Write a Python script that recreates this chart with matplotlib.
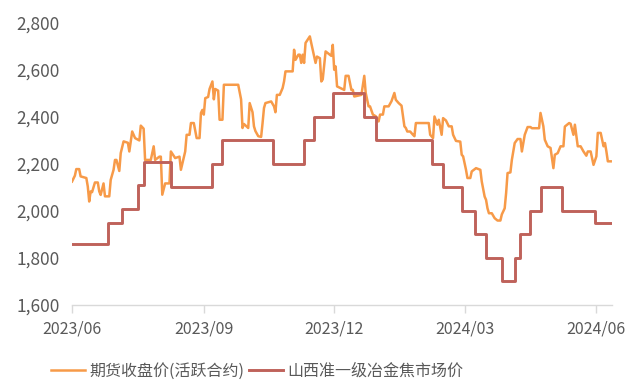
import numpy as np
import pandas as pd
import matplotlib
matplotlib.use('Agg')
import matplotlib.pyplot as plt
import matplotlib.dates as mdates
from matplotlib.ticker import FuncFormatter

# =========================================================
# DATA
# =========================================================

# 焦炭期货收盘价（活跃合约）
fut_dates = [
    '2023-06-01', '2023-06-03', '2023-06-04', '2023-06-06', '2023-06-07',
    '2023-06-11', '2023-06-12', '2023-06-13', '2023-06-14', '2023-06-15',
    '2023-06-17', '2023-06-19', '2023-06-20', '2023-06-21', '2023-06-23',
    '2023-06-24', '2023-06-27', '2023-06-28', '2023-06-30', '2023-07-01',
    '2023-07-02', '2023-07-04', '2023-07-05', '2023-07-07', '2023-07-10',
    '2023-07-11', '2023-07-13', '2023-07-15', '2023-07-18', '2023-07-19',
    '2023-07-21', '2023-07-22', '2023-07-26', '2023-07-28', '2023-07-29',
    '2023-08-01', '2023-08-02', '2023-08-03', '2023-08-05', '2023-08-08',
    '2023-08-09', '2023-08-12', '2023-08-15', '2023-08-16', '2023-08-19',
    '2023-08-20', '2023-08-22', '2023-08-23', '2023-08-25', '2023-08-27',
    '2023-08-29', '2023-08-30', '2023-08-31', '2023-09-01', '2023-09-02',
    '2023-09-04', '2023-09-05', '2023-09-07', '2023-09-08', '2023-09-09',
    '2023-09-11', '2023-09-12', '2023-09-14', '2023-09-15', '2023-09-25',
    '2023-09-27', '2023-09-28', '2023-09-29', '2023-10-02', '2023-10-03',
    '2023-10-05', '2023-10-06', '2023-10-07', '2023-10-09', '2023-10-11',
    '2023-10-12', '2023-10-13', '2023-10-14', '2023-10-18', '2023-10-20',
    '2023-10-21', '2023-10-22', '2023-10-24', '2023-10-26', '2023-10-27',
    '2023-10-28', '2023-11-02', '2023-11-03', '2023-11-04', '2023-11-06',
    '2023-11-07', '2023-11-08', '2023-11-09', '2023-11-10', '2023-11-11',
    '2023-11-14', '2023-11-15', '2023-11-18', '2023-11-19', '2023-11-21',
    '2023-11-22', '2023-11-23', '2023-11-25', '2023-11-29', '2023-11-30',
    '2023-12-01', '2023-12-02', '2023-12-03', '2023-12-08', '2023-12-09',
    '2023-12-11', '2023-12-13', '2023-12-14', '2023-12-15', '2023-12-20',
    '2023-12-22', '2023-12-23', '2023-12-25', '2023-12-26', '2023-12-28',
    '2023-12-30', '2024-01-01', '2024-01-02', '2024-01-04', '2024-01-05',
    '2024-01-08', '2024-01-10', '2024-01-12', '2024-01-13', '2024-01-15',
    '2024-01-17', '2024-01-19', '2024-01-20', '2024-01-21', '2024-01-23',
    '2024-01-25', '2024-01-26', '2024-01-27', '2024-02-05', '2024-02-06',
    '2024-02-08', '2024-02-09', '2024-02-11', '2024-02-12', '2024-02-14',
    '2024-02-15', '2024-02-17', '2024-02-19', '2024-02-21', '2024-02-22',
    '2024-02-24', '2024-02-27', '2024-02-28', '2024-02-29', '2024-03-02',
    '2024-03-03', '2024-03-05', '2024-03-06', '2024-03-09', '2024-03-12',
    '2024-03-13', '2024-03-15', '2024-03-16', '2024-03-17', '2024-03-18',
    '2024-03-20', '2024-03-22', '2024-03-24', '2024-03-26', '2024-03-27',
    '2024-03-29', '2024-03-30', '2024-03-31', '2024-04-02', '2024-04-03',
    '2024-04-05', '2024-04-07', '2024-04-09', '2024-04-10', '2024-04-12',
    '2024-04-14', '2024-04-16', '2024-04-17', '2024-04-22', '2024-04-23',
    '2024-04-25', '2024-04-26', '2024-04-28', '2024-04-30', '2024-05-02',
    '2024-05-03', '2024-05-05', '2024-05-07', '2024-05-09', '2024-05-10',
    '2024-05-13', '2024-05-14', '2024-05-16', '2024-05-17', '2024-05-19',
    '2024-05-21', '2024-05-23', '2024-05-25', '2024-05-26', '2024-05-28',
    '2024-05-30', '2024-06-01', '2024-06-02', '2024-06-04', '2024-06-06',
    '2024-06-07', '2024-06-08', '2024-06-09', '2024-06-11',
]

fut_close = [
    2125, 2150, 2178, 2178, 2147,
    2140, 2104, 2040, 2083, 2080,
    2121, 2121, 2083, 2068, 2117,
    2062, 2062, 2132, 2175, 2217,
    2217, 2170, 2246, 2296, 2290,
    2253, 2338, 2310, 2300, 2363,
    2350, 2217, 2217, 2275, 2217,
    2231, 2231, 2069, 2117, 2117,
    2253, 2225, 2231, 2175, 2253,
    2324, 2324, 2374, 2374, 2310,
    2310, 2417, 2430, 2410, 2480,
    2485, 2519, 2551, 2475, 2519,
    2512, 2388, 2388, 2537, 2537,
    2475, 2353, 2370, 2353, 2459,
    2420, 2360, 2340, 2318, 2315,
    2374, 2438, 2459, 2466, 2445,
    2420, 2494, 2494, 2523, 2551,
    2594, 2594, 2686, 2643, 2665,
    2665, 2630, 2665, 2630, 2715,
    2743, 2714, 2630, 2657, 2650,
    2551, 2560, 2679, 2660, 2707,
    2601, 2615, 2530, 2515, 2575,
    2575, 2515, 2515, 2487, 2494,
    2575, 2502, 2445, 2445, 2410,
    2403, 2381, 2410, 2410, 2445,
    2445, 2467, 2502, 2473, 2459,
    2448, 2360, 2353, 2338, 2338,
    2324, 2318, 2374, 2374, 2324,
    2310, 2402, 2367, 2388, 2324,
    2395, 2385, 2360, 2360, 2324,
    2298, 2295, 2239, 2232, 2175,
    2140, 2140, 2168, 2182, 2175,
    2125, 2061, 2047, 2011, 1990,
    1990, 1969, 1959, 1959, 1985,
    2011, 2076, 2161, 2164, 2217,
    2289, 2306, 2306, 2253, 2324,
    2357, 2357, 2352, 2352, 2417,
    2360, 2303, 2275, 2268, 2182,
    2239, 2246, 2275, 2275, 2359,
    2374, 2371, 2324, 2367, 2275,
    2275, 2253, 2235, 2253, 2253,
    2196, 2232, 2332, 2332, 2275,
    2289, 2253, 2211, 2211,
]

# 山西准一级冶金焦市场价（调价日）
spot_dates = [
    '2023-06-01', '2023-06-26', '2023-07-06', '2023-07-17', '2023-07-21',
    '2023-08-09', '2023-09-07', '2023-09-14', '2023-10-19', '2023-11-10',
    '2023-11-17', '2023-11-30', '2023-12-22', '2023-12-30', '2024-02-07',
    '2024-02-15', '2024-02-28', '2024-03-08', '2024-03-16', '2024-03-27',
    '2024-04-05', '2024-04-09', '2024-04-16', '2024-04-23', '2024-05-08',
    '2024-05-31', '2024-06-12',
]

spot_price = [
    1860, 1950, 2010, 2110, 2210,
    2100, 2200, 2300, 2200, 2300,
    2400, 2500, 2400, 2300, 2200,
    2100, 2000, 1900, 1800, 1700,
    1800, 1900, 2000, 2100, 2000,
    1950, 1950,
]

labels = ['期货收盘价(活跃合约)', '山西准一级冶金焦市场价']
tick_dates = ['2023-06-01', '2023-09-01', '2023-12-01', '2024-03-01', '2024-06-01']

# =========================================================
# STYLE
# =========================================================

plt.rcParams['font.family'] = ['Noto Sans CJK SC', 'DejaVu Sans']

ORANGE = '#F79A48'
RED = '#BF625A'
TEXT = '#595959'
AXIS = '#D9D9D9'

# =========================================================
# PLOT
# =========================================================

fut = pd.Series(fut_close, index=pd.to_datetime(fut_dates))
spot = pd.Series(spot_price, index=pd.to_datetime(spot_dates))

fig = plt.figure(figsize=(6.43, 3.83), dpi=100)
ax = fig.add_axes([0.112, 0.204, 0.840, 0.736])

ax.plot(fut.index, fut.values, color=ORANGE, linewidth=1.8,
        label=labels[0], solid_joinstyle='round')
ax.plot(spot.index, spot.values, color=RED, linewidth=2.1,
        drawstyle='steps-post', label=labels[1])

ax.set_ylim(1600, 2800)
ax.set_yticks(np.arange(1600, 2801, 200))
ax.yaxis.set_major_formatter(FuncFormatter(lambda v, _: f'{int(v):,}'))

ax.set_xlim(pd.Timestamp('2023-06-01'), pd.Timestamp('2024-06-12'))
ax.set_xticks(pd.to_datetime(tick_dates))
ax.xaxis.set_major_formatter(mdates.DateFormatter('%Y/%m'))

for side in ['top', 'right', 'left']:
    ax.spines[side].set_visible(False)
ax.spines['bottom'].set_color(AXIS)
ax.spines['bottom'].set_linewidth(1.0)

ax.tick_params(axis='y', length=0, pad=9, labelsize=12.5, labelcolor=TEXT)
ax.tick_params(axis='x', direction='out', length=6, width=1.0, color=AXIS,
               pad=5, labelsize=11.5, labelcolor=TEXT)

fig.legend(
    loc='center',
    bbox_to_anchor=(0.40, 0.03),
    ncol=2,
    frameon=False,
    fontsize=11.5,
    labelcolor=TEXT,
    handlelength=2.1,
    handletextpad=0.3,
    columnspacing=0.3,
)

fig.savefig('out.png', dpi=100)
